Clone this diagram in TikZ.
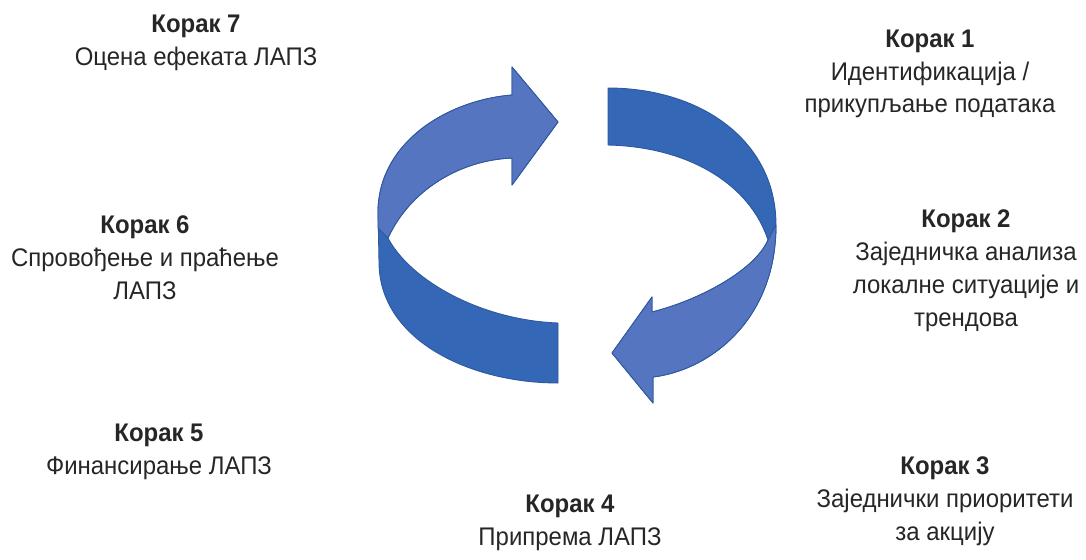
\documentclass[tikz,border=0pt]{standalone}
\usepackage{fontspec}
\setmainfont[FakeStretch=0.94]{Liberation Sans}
\usepackage{tikz}

\definecolor{ringdark}{RGB}{52,103,182}
\definecolor{ringlight}{RGB}{86,117,192}
\definecolor{ringline}{RGB}{44,88,160}
\definecolor{textgray}{RGB}{38,38,38}

\begin{document}
\begin{tikzpicture}[x=0.02cm, y=-0.02cm,
  korak/.style={align=center, text=textgray, font=\fontsize{14.5}{18.7}\selectfont},
  back/.style={fill=ringdark, draw=ringline, line width=0.5pt, line join=round},
  front/.style={fill=ringlight, draw=ringline, line width=0.5pt, line join=round}]
\useasboundingbox (0,0) rectangle (1086,559);

% left arrow
\path[back] (558,383) -- (558,323)
  .. controls (480,320) and (410,280) .. (388,238)
  .. controls (410,190) and (460,160) .. (512,158)
  -- (512,185) -- (558,122) -- (512,67) -- (512,95)
  .. controls (450,100) and (380,140) .. (378,210)
  -- (379,262)
  .. controls (379,340) and (470,383) .. (558,383)
  -- cycle;
\path[front] (388,238)
  .. controls (410,190) and (460,160) .. (512,158)
  -- (512,185) -- (558,122) -- (512,67) -- (512,95)
  .. controls (450,100) and (380,140) .. (378,210)
  -- (378,228) -- cycle;

% right arrow
\path[back] (608,88)
  .. controls (700,88) and (776,140) .. (776,225)
  .. controls (776,320) and (710,370) .. (653,377)
  -- (653,403) -- (612,353) -- (652,297) -- (652,312)
  .. controls (700,300) and (755,270) .. (768,240)
  .. controls (750,185) and (690,147) .. (608,145)
  -- cycle;
\path[front] (768,240) -- (776,225)
  .. controls (776,320) and (710,370) .. (653,377)
  -- (653,403) -- (612,353) -- (652,297) -- (652,312)
  .. controls (700,300) and (755,270) .. (768,240)
  -- cycle;

\node[korak] (k1) at (930,74) {\textbf{Корак 1}\\Идентификација /\\прикупљање података};
\node[korak] (k2) at (966,271) {\textbf{Корак 2}\\Заједничка анализа\\локалне ситуације и\\трендова};
\node[korak] (k3) at (945,501) {\textbf{Корак 3}\\Заједнички приоритети\\за акцију};
\node[korak] (k4) at (570,523) {\textbf{Корак 4}\\Припрема ЛАПЗ};
\node[korak] (k5) at (159,452) {\textbf{Корак 5}\\Финансирање ЛАПЗ};
\node[korak] (k6) at (145,258) {\textbf{Корак 6}\\Спровођење и праћење\\ЛАПЗ};
\node[korak] (k7) at (196,43) {\textbf{Корак 7}\\Оцена ефеката ЛАПЗ};
\end{tikzpicture}
\end{document}
